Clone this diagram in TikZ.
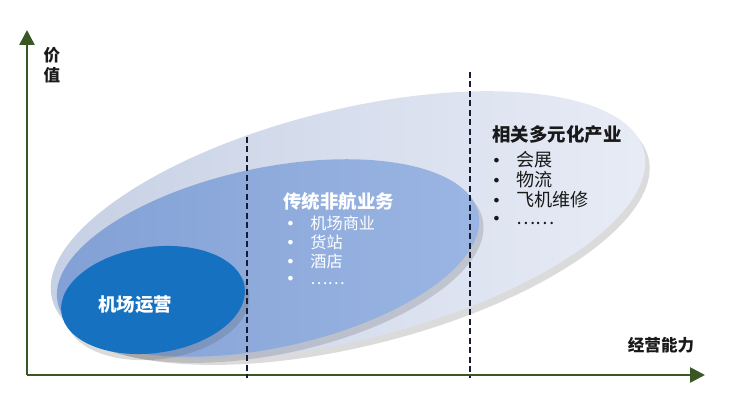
\documentclass[tikz,border=0pt]{standalone}
\usepackage{fontspec}
\setmainfont{Noto Sans CJK SC}
\newfontfamily\vinfont{DejaVu Sans}
\usetikzlibrary{arrows.meta,positioning,shapes.geometric,shadows}
\definecolor{ejeverde}{RGB}{56,87,35}
\definecolor{cortenegro}{RGB}{22,28,52}
\definecolor{extoscuro}{RGB}{198,208,228}
\definecolor{extclaro}{RGB}{232,236,246}
\definecolor{medoscuro}{RGB}{130,160,213}
\definecolor{medclaro}{RGB}{155,182,227}
\definecolor{nucleo}{RGB}{22,113,193}
\definecolor{textonegro}{RGB}{25,25,25}
\tikzset{
  eje/.style={-{Triangle[length=3mm,width=3mm]},ejeverde,line width=1.5pt},
  corte/.style={cortenegro,line width=1.1pt,dash pattern=on 3.4pt off 2pt},
  elipse/.style={ellipse,inner sep=0pt,
    drop shadow={shadow xshift=2.5pt,shadow yshift=-3.5pt,opacity=.2,fill=black!70}},
  rotulo/.style={font=\bfseries\fontsize{9.4}{11.5}\selectfont,textonegro,inner sep=0pt,align=center},
  titulo/.style={font=\bfseries\fontsize{10.5}{12}\selectfont,anchor=west,inner sep=0pt},
  punto/.style={anchor=west,inner sep=0pt},
}
\newcommand{\vin}[1]{\makebox[14pt][l]{\vinfont\small •}#1}

\begin{document}
\begin{tikzpicture}
  \useasboundingbox (0,0) rectangle (14.7,8.06);
  % elipses
  \node[elipse,left color=extoscuro,right color=extclaro,
    minimum width=12.2cm,minimum height=4.6cm,rotate=14] (ext) at (6.96,3.56) {};
  \node[elipse,left color=medoscuro,right color=medclaro,
    minimum width=8.6cm,minimum height=3.6cm,rotate=12] (med) at (5.36,2.90) {};
  \node[elipse,fill=nucleo,
    minimum width=3.7cm,minimum height=2.12cm,rotate=8] (nuc) at (3.06,2.06) {};
  % ejes
  \coordinate (o) at (0.54,0.56);
  \coordinate (ytop) at (0.54,7.46);
  \coordinate (xend) at (14.1,0.56);
  \draw[eje] (o) -- (ytop);
  \draw[eje] (o) -- (xend);
  \node[rotulo] (valor) at (1.04,6.76) {价\\值};
  \node[rotulo] (capac) at (13.22,1.16) {经营能力};
  % cortes
  \coordinate (c1a) at (4.94,5.32);
  \coordinate (c1b) at (4.94,0.50);
  \coordinate (c2a) at (9.40,6.62);
  \coordinate (c2b) at (9.40,0.50);
  \draw[corte] (c1a) -- (c1b);
  \draw[corte] (c2a) -- (c2b);
  % textos
  \node[font=\bfseries\fontsize{10.5}{12}\selectfont,white,inner sep=0pt] (t1) at (2.70,1.96) {机场运营};
  \node[titulo,white] (t2) at (5.66,4.03) {传统非航业务};
  \node[punto,white,font=\fontsize{9.2}{11}\selectfont] (m1) at (5.71,3.60) {\vin{机场商业}};
  \node[punto,white,font=\fontsize{9.2}{11}\selectfont] (m2) at (5.71,3.22) {\vin{货站}};
  \node[punto,white,font=\fontsize{9.2}{11}\selectfont] (m3) at (5.71,2.84) {\vin{酒店}};
  \node[punto,white,font=\fontsize{9.2}{11}\selectfont] (m4) at (5.71,2.44) {\vin{……}};
  \node[titulo,textonegro] (t3) at (9.84,5.36) {相关多元化产业};
  \node[punto,textonegro,font=\fontsize{10.3}{12}\selectfont] (r1) at (9.83,4.86) {\vin{会展}};
  \node[punto,textonegro,font=\fontsize{10.3}{12}\selectfont] (r2) at (9.83,4.46) {\vin{物流}};
  \node[punto,textonegro,font=\fontsize{10.3}{12}\selectfont] (r3) at (9.83,4.06) {\vin{飞机维修}};
  \node[punto,textonegro,font=\fontsize{10.3}{12}\selectfont] (r4) at (9.83,3.64) {\vin{……}};
\end{tikzpicture}
\end{document}
